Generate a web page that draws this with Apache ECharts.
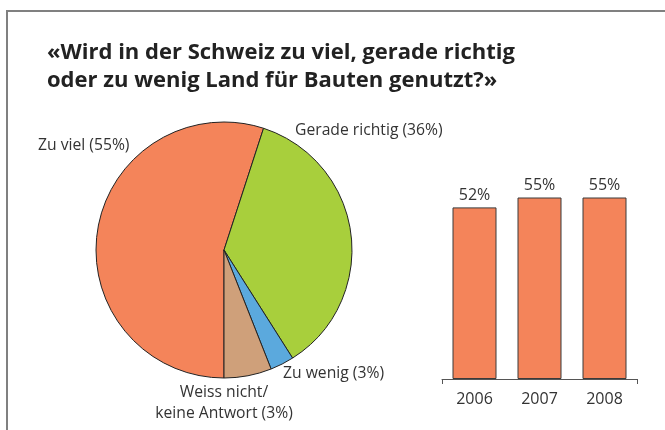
<!DOCTYPE html>
<html>
<head>
<meta charset="utf-8">
<script src="https://cdn.jsdelivr.net/npm/echarts@6/dist/echarts.min.js"></script>
<style>
  html, body { margin: 0; padding: 0; background: #fff; }
  #wrap { position: relative; width: 665px; height: 430px; overflow: hidden; }
  #frame { position: absolute; left: 6px; top: 10px; right: 0; bottom: 0; border-top: 2px solid #808080; border-left: 2px solid #808080; pointer-events: none; }
  #chart { position: absolute; left: 0; top: 0; width: 665px; height: 430px; }
</style>
</head>
<body>
<div id="wrap">
  <div id="chart"></div>
  <div id="frame"></div>
</div>
<script>
const titleLines = ['«Wird in der Schweiz zu viel, gerade richtig', 'oder zu wenig Land für Bauten genutzt?»'];

const pieCategories = ['Zu viel', 'Gerade richtig', 'Zu wenig', 'Weiss nicht/\nkeine Antwort'];
const pieValues = [55, 36, 3, 6];          // slice sizes as drawn
const pieLabelPercents = [55, 36, 3, 3];   // percentages as printed
const pieColors = ['#f4845a', '#a8cf3c', '#5ba9dd', '#cfa07a'];

const years = ['2006', '2007', '2008'];
const barValues = [52, 55, 55];

const FONT = '"Open Sans", "Noto Sans", sans-serif';
const TEXT = '#333333';

const labelPos = [
  { x: 38, y: 146, align: 'left' },
  { x: 295, y: 131, align: 'left' },
  { x: 283, y: 374, align: 'left' },
  { x: 224, y: 403, align: 'center' }
];

const chart = echarts.init(document.getElementById('chart'), null, { renderer: 'canvas' });
chart.setOption({
  animation: false,
  title: {
    text: titleLines.join('\n'),
    left: 42,
    top: 34,
    textStyle: { fontFamily: FONT, fontWeight: 'bold', fontSize: 22, color: '#222', lineHeight: 28 }
  },
  grid: { left: 442, right: 28, top: 181, bottom: 51 },
  xAxis: [
    {
      type: 'category',
      data: years,
      axisLine: { lineStyle: { color: '#555', width: 1 } },
      axisTick: { show: false },
      axisLabel: { fontFamily: FONT, fontSize: 16, color: TEXT, margin: 12 }
    },
    {
      type: 'value',
      position: 'bottom',
      min: 0, max: 1, interval: 1,
      axisLine: { show: false },
      axisTick: { show: true, length: 5, lineStyle: { color: '#555' } },
      axisLabel: { show: false },
      splitLine: { show: false }
    }
  ],
  yAxis: { type: 'value', min: 0, max: 60, show: false },
  series: [
    {
      type: 'pie',
      center: [224, 250],
      radius: 128,
      startAngle: 270,
      clockwise: true,
      avoidLabelOverlap: false,
      data: pieCategories.map((name, i) => ({
        name, value: pieValues[i], itemStyle: { color: pieColors[i] }
      })),
      itemStyle: { borderColor: '#222', borderWidth: 1 },
      label: {
        show: true,
        position: 'outside',
        formatter: p => p.name + ' (' + pieLabelPercents[p.dataIndex] + '%)',
        fontFamily: FONT, fontSize: 15.7, color: TEXT, lineHeight: 21
      },
      labelLine: { show: false },
      labelLayout: p => Object.assign({ verticalAlign: 'middle' }, labelPos[p.dataIndex]),
      emphasis: { disabled: true }
    },
    {
      type: 'bar',
      xAxisIndex: 0,
      data: barValues,
      barWidth: 44,
      itemStyle: { color: '#f4845a', borderColor: '#3a3a3a', borderWidth: 1 },
      label: {
        show: true, position: 'top', distance: 4,
        formatter: '{c}%', fontFamily: FONT, fontSize: 16, color: TEXT
      },
      emphasis: { disabled: true }
    }
  ]
});
</script>
</body>
</html>
